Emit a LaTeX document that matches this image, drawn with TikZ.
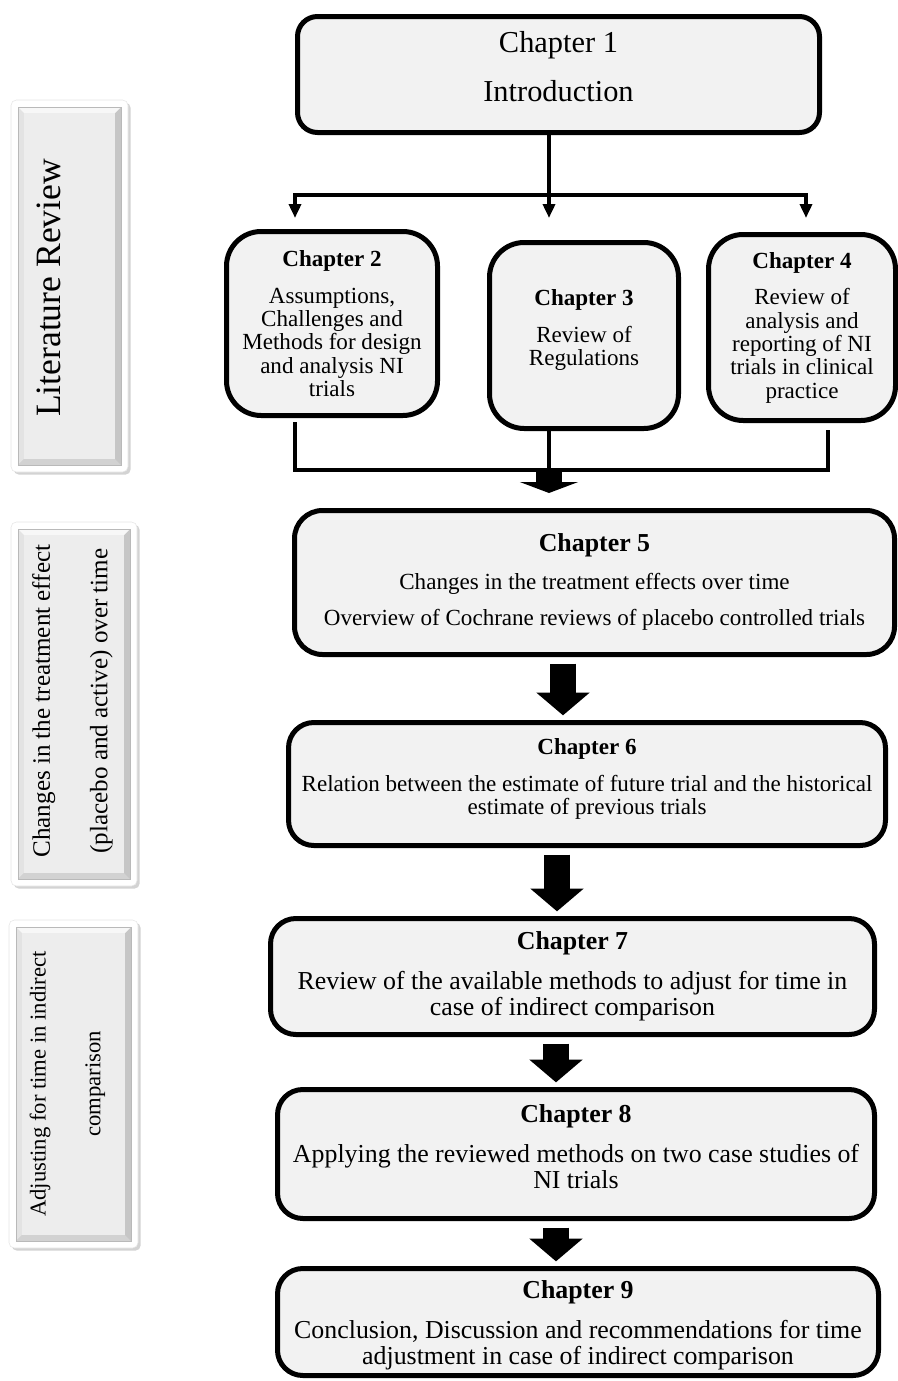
\documentclass[tikz,border=0pt]{standalone}
\usepackage{fontspec}
\setmainfont{Liberation Serif}
\usetikzlibrary{arrows.meta,shadows}

\newcommand\bodyfont{\fontsize{17.3}{17.5}\selectfont}
\newcommand\bigbody{\fontsize{19.4}{19.5}\selectfont}
\newcommand\padbelow[1]{\rule[-#1]{0pt}{0pt}}
\newcommand\padabove[1]{\rule{0pt}{#1}}

\tikzset{
  chapbox/.style={draw=black, line width=3.75pt, fill=gray!10, rounded corners=#1,
    inner sep=0pt, align=center},
  chapbox/.default=19pt,
  conn/.style={line width=3pt},
  smalltip/.style={-{Triangle[length=10.5pt,width=9pt]}},
  blockarr/.style={line width=19.5pt, -{Triangle[length=17pt,width=39pt]},
    shorten <=5pt, shorten >=3.5pt},
  sidetext/.style={rotate=90, align=center, inner sep=0pt}
}

\begin{document}
\begin{tikzpicture}[x=0.75pt,y=-0.75pt]
\useasboundingbox (0,0) rectangle (898,1381);

\foreach \xa/\ya/\xb/\yb in {11/100/128/472, 11/522/137/886, 9/920/138/1248}{
  \path[fill=white, draw=gray!20, rounded corners=4pt,
    drop shadow={shadow xshift=2pt, shadow yshift=-2pt, opacity=.35}]
    (\xa,\ya) rectangle (\xb,\yb);
  \fill[gray!45] ({\xa+7},{\ya+7}) rectangle ({\xb-7},{\yb-7});
  \fill[gray!22] ({\xa+7},{\ya+7}) -- ({\xa+13},{\ya+13}) -- ({\xa+13},{\yb-13}) -- ({\xa+7},{\yb-7}) -- cycle;
  \fill[gray!6] ({\xa+7},{\ya+7}) -- ({\xb-7},{\ya+7}) -- ({\xb-13},{\ya+13}) -- ({\xa+13},{\ya+13}) -- cycle;
  \fill[gray!35] ({\xa+7},{\yb-7}) -- ({\xb-7},{\yb-7}) -- ({\xb-13},{\yb-13}) -- ({\xa+13},{\yb-13}) -- cycle;
  \fill[gray!14] ({\xa+13},{\ya+13}) rectangle ({\xb-13},{\yb-13});
  \draw[gray!55, line width=.4pt] ({\xa+7},{\ya+7}) rectangle ({\xb-7},{\yb-7});
}

\node[sidetext, font=\fontsize{26.7}{28}\selectfont] (lit) at (49,288) {Literature Review};
\node[sidetext, font=\fontsize{18.8}{43}\selectfont] (chg) at (72.5,701)
  {Changes in the treatment effect\\(placebo and active) over time};
\node[sidetext, font=\fontsize{17}{41}\selectfont] (adj) at (67.5,1084)
  {Adjusting for time in indirect\\comparison};

\node[chapbox=15pt, minimum width=391.5pt, minimum height=87pt,
  font=\fontsize{22.8}{24}\selectfont] (c1) at (558.5,74.5) {Chapter 1\\[12.75pt]Introduction\padbelow{12pt}};
\node[chapbox=26pt, minimum width=158.25pt, minimum height=138pt, font=\bodyfont] (c2) at (332,323.5)
  {\textbf{Chapter 2}\\[10pt]Assumptions,\\Challenges and\\Methods for design\\and analysis NI\\trials};
\node[chapbox=26pt, minimum width=141.75pt, minimum height=139.5pt, font=\bodyfont] (c3) at (584,335.5)
  {\textbf{Chapter 3}\\[10pt]Review of\\Regulations\padbelow{11.3pt}};
\node[chapbox=26pt, minimum width=140.25pt, minimum height=139.5pt, font=\bodyfont] (c4) at (802,327.5)
  {\textbf{Chapter 4}\\[10pt]Review of\\analysis and\\reporting of NI\\trials in clinical\\practice};
\node[chapbox=21pt, minimum width=450pt, minimum height=108pt, font=\bodyfont] (c5) at (594.5,582.5)
  {{\bigbody\textbf{Chapter 5}}\\[11pt]Changes in the treatment effects over time\\[10pt]Overview of Cochrane reviews of placebo controlled trials\padbelow{4.5pt}};
\node[chapbox, minimum width=447.75pt, minimum height=92.25pt, font=\bodyfont] (c6) at (587,784)
  {\textbf{Chapter 6}\\[10pt]Relation between the estimate of future trial and the historical\\estimate of previous trials\padbelow{11.3pt}};
\node[chapbox, minimum width=453pt, minimum height=87pt, font=\bigbody] (c7) at (572.5,976.5)
  {\textbf{Chapter 7}\\[10.5pt]Review of the available methods to adjust for time in\\case of indirect comparison};
\node[chapbox, minimum width=447.75pt, minimum height=96.75pt, font=\bigbody] (c8) at (576,1154)
  {\textbf{Chapter 8}\\[10.5pt]Applying the reviewed methods on two case studies of\\NI trials\padbelow{10.5pt}};
\node[chapbox, minimum width=450.75pt, minimum height=80.25pt, font=\bigbody] (c9) at (578,1322)
  {\padabove{19pt}\textbf{Chapter 9}\\[10.5pt]Conclusion, Discussion and recommendations for time\\adjustment in case of indirect comparison};

\coordinate (s) at (549,195);
\coordinate (t2) at (295,218);
\coordinate (t3) at (549,218);
\coordinate (t4) at (806,218);
\draw[conn] (c1.south -| s) -- (s);
\draw[conn, smalltip] (s) -| (t2);
\draw[conn, smalltip] (s) -- (t3);
\draw[conn, smalltip] (s) -| (t4);

\coordinate (d2) at (295,422);
\coordinate (d4) at (828,430);
\coordinate (m) at (549,470);
\coordinate (m5) at (549,493);
\draw[conn] (d2) |- (m) -| (d4);
\draw[conn] (c3.south -| m) -- (m);
\draw[line width=20pt, -{Triangle[length=8.25pt,width=43.5pt]}] (m) -- (m5);

\draw[blockarr] (c5.south -| 563,0) -- (c6.north -| 563,0);
\draw[blockarr] (c6.south -| 557,0) -- (c7.north -| 557,0);
\draw[blockarr] (c7.south -| 556,0) -- (c8.north -| 556,0);
\draw[blockarr] (c8.south -| 556,0) -- (c9.north -| 556,0);
\end{tikzpicture}
\end{document}
